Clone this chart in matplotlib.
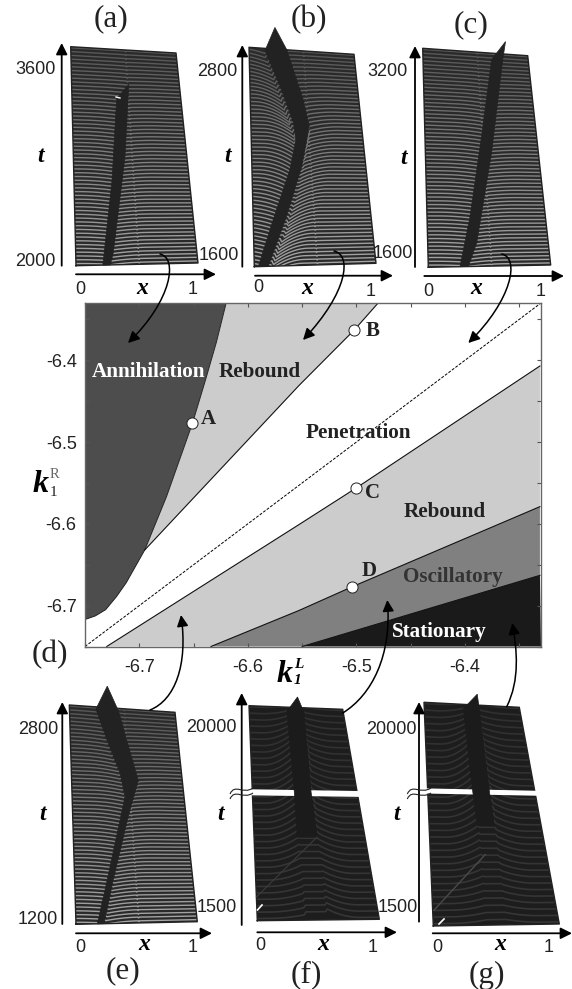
import numpy as np
import matplotlib as mpl
mpl.use('Agg')
import matplotlib.pyplot as plt
from matplotlib.patches import FancyArrowPatch, PathPatch
from matplotlib.path import Path

SANS = 'Liberation Sans'
SERIF = 'Liberation Serif'
plt.rcParams['axes.unicode_minus'] = False

# phase diagram (k1L, k1R)

annih_x = [-6.620, -6.629, -6.639, -6.651, -6.675, -6.695, -6.712, -6.721, -6.731, -6.7405, -6.750]
annih_y = [-6.330, -6.378, -6.424, -6.477, -6.567, -6.632, -6.672, -6.689, -6.705, -6.7126, -6.717]
upper_x = [-6.695, -6.553, -6.502, -6.480]
upper_y = [-6.632, -6.431, -6.363, -6.330]
lower_x = [-6.730, -6.553, -6.500, -6.331]
lower_y = [-6.750, -6.601, -6.556, -6.407]
osc_x = [-6.634, -6.553, -6.504, -6.331]
osc_y = [-6.750, -6.706, -6.677, -6.579]
stat_x = [-6.550, -6.331]
stat_y = [-6.750, -6.663]
points_x = [-6.651, -6.502, -6.500, -6.504]
points_y = [-6.477, -6.363, -6.556, -6.677]
k_ticks = [-6.7, -6.6, -6.5, -6.4]

# ridge outlines of the surfaces, fractions of x and of the t range

a_ridge_u = [0.22, 0.33, 0.41, 0.53, 0.454, 0.31, 0.28]
a_ridge_v = [0.00, 0.39, 0.77, 0.84, 0.50, 0.055, 0.00]
b_ridge_u = [0.033, 0.17, 0.333, 0.40, 0.385, 0.28, 0.152, 0.256, 0.36, 0.488, 0.527, 0.437, 0.285, 0.115]
b_ridge_v = [0.00, 0.214, 0.446, 0.585, 0.665, 0.83, 0.99, 1.10, 1.00, 0.77, 0.65, 0.46, 0.23, 0.00]
c_ridge_u = [0.259, 0.363, 0.508, 0.652, 0.80, 0.756, 0.587, 0.407, 0.327]
c_ridge_v = [0.00, 0.23, 0.61, 0.97, 1.06, 0.97, 0.535, 0.11, 0.00]
e_ridge_u = [0.176, 0.27, 0.473, 0.441, 0.337, 0.251, 0.371, 0.462, 0.602, 0.491, 0.328, 0.231]
e_ridge_v = [0.00, 0.19, 0.59, 0.70, 0.855, 0.99, 1.10, 0.99, 0.665, 0.50, 0.205, 0.00]
f_ridge_u = [0.39, 0.40, 0.40, 0.53, 0.58, 0.56, 0.57]
f_ridge_v = [0.39, 0.60, 0.98, 1.05, 0.98, 0.60, 0.39]
g_ridge_u = [0.43, 0.42, 0.408, 0.573, 0.575, 0.575, 0.58]
g_ridge_v = [0.45, 0.60, 0.98, 1.05, 0.98, 0.60, 0.45]

# how far the stripes bend next to the ridge, pixels, against v
bend_v = [0.0, 0.25, 0.5, 0.75, 1.0]
a_bend_left = [1, 2, 2, 1, 0]
a_bend_right = [2, 2, 2, 1, 0]
b_bend_left = [4, 6, 10, 12, 4]
b_bend_right = [12, 12, 7, 3, 0]
c_bend_left = [1, 2, 2, 2, 0]
c_bend_right = [2, 2, 2, 1, 0]
e_bend_left = [1, 2, 3, 3, 0]
e_bend_right = [3, 3, 2, 1, 0]
f_bend_left = [-3, -9, -14, -14, -2]
f_bend_right = [-9, -9, -9, -8, -2]
g_bend_left = [-3, -9, -14, -15, -2]
g_bend_right = [-3, -7, -9, -8, -2]
faint_u = 0.52

fig = plt.figure(figsize=(5.72, 9.89), dpi=100, facecolor='white')

ax = fig.add_axes([85 / 572, 1 - 646.5 / 989, 456 / 572, 343.5 / 989])
ax.set_xlim(-6.75, -6.33)
ax.set_ylim(-6.75, -6.33)
ax.fill(annih_x + [-6.75], annih_y + [-6.33], color='#4d4d4d', lw=0)
ax.fill(annih_x[:6] + upper_x[1:], annih_y[:6] + upper_y[1:], color='#cccccc', lw=0)
ax.fill(lower_x + osc_x[::-1], lower_y + osc_y[::-1], color='#cccccc', lw=0)
ax.fill(osc_x + stat_x[::-1], osc_y + stat_y[::-1], color='#808080', lw=0)
ax.fill(stat_x + [-6.33], stat_y + [-6.75], color='#1a1a1a', lw=0)
ax.plot(annih_x, annih_y, color='#222222', lw=0.7)
for xs, ys in [(upper_x, upper_y), (lower_x, lower_y), (osc_x, osc_y), (stat_x, stat_y)]:
    ax.plot(xs, ys, color='#111111', lw=0.8)
ax.plot([-6.75, -6.33], [-6.75, -6.33], color='black', lw=0.7, dashes=(3, 1.5))
ax.plot(points_x, points_y, 'o', ms=8, mfc='white', mec='#222222', mew=0.7)
ax.set_xticks(k_ticks)
ax.set_yticks(k_ticks)
ax.set_xticks(np.arange(-6.75, -6.32, 0.05), minor=True)
ax.set_yticks(np.arange(-6.75, -6.32, 0.05), minor=True)
ax.tick_params(which='both', direction='in', top=True, right=True, length=3, width=0.8, color='#555555')
ax.tick_params(axis='x', pad=9, labelsize=13)
ax.tick_params(axis='y', pad=6, labelsize=13)
for lab in ax.get_xticklabels() + ax.get_yticklabels():
    lab.set_family(SANS)
    lab.set_color('#222222')
for s in ax.spines.values():
    s.set_color('#666666')
    s.set_linewidth(1.0)

ov = fig.add_axes([0, 0, 1, 1], facecolor='none')
ov.set_xlim(0, 572)
ov.set_ylim(989, 0)
ov.axis('off')


def project(corners, u, v):
    bl, br, tr, tl = [np.array(c, float) for c in corners]
    u = np.asarray(u, float)
    v = np.asarray(v, float)
    x = (bl[0] * (1 - u) + br[0] * u) * (1 - v) + (tl[0] * (1 - u) + tr[0] * u) * v
    y = (bl[1] * (1 - u) + br[1] * u) * (1 - v) + (tl[1] * (1 - u) + tr[1] * u) * v
    return x, y


def ridge_span(ru, rv, v):
    # left and right end of the ridge at height v
    hits = []
    n = len(ru)
    for i in range(n):
        u0, v0, u1, v1 = ru[i], rv[i], ru[(i + 1) % n], rv[(i + 1) % n]
        if min(v0, v1) <= v <= max(v0, v1) and v0 != v1:
            hits.append(u0 + (u1 - u0) * (v - v0) / (v1 - v0))
    return min(hits), max(hits)


def surface(corners, ridge_u, ridge_v, bend_l, bend_r, nlines, bg, top_c, bot_c, ridge_c, lw=1.0, faint=0.8, gap=None):
    px, py = project(corners, [0, 1, 1, 0], [0, 0, 1, 1])
    quad = ov.fill(px, py, color=bg, lw=0, zorder=2)[0]
    top_rgb = np.array(mpl.colors.to_rgb(top_c))
    bot_rgb = np.array(mpl.colors.to_rgb(bot_c))
    width = 0.28
    for v in np.linspace(0.01, 0.995, nlines):
        near = np.clip(v, min(ridge_v) + 1e-3, max(ridge_v) - 1e-3)
        ul, ur = ridge_span(ridge_u, ridge_v, near)
        u = np.unique(np.r_[np.linspace(0, 1, 81), faint_u - 0.012, faint_u, faint_u + 0.012])
        left = np.interp(v, bend_v, bend_l)
        right = np.interp(v, bend_v, bend_r)
        s_l = np.clip((u - (ul - width)) / width, 0, 1) ** 2
        s_r = np.clip(((ur + width) - u) / width, 0, 1) ** 2
        off = np.where(u <= ul, left * s_l, np.where(u >= ur, right * s_r, 0.5 * (left + right)))
        off = off + faint * (u == faint_u)
        x, y = project(corners, u, np.full(u.shape, v))
        col = top_rgb * v + bot_rgb * (1 - v)
        line, = ov.plot(x, y + off, color=col, lw=lw, zorder=3, solid_capstyle='butt')
        line.set_clip_path(quad)
    ex, ey = project(corners, [0, 1, 1, 0, 0], [0, 0, 1, 1, 0])
    ov.plot(ex, ey, color='#222222', lw=1.0, zorder=4)
    if gap is not None:
        gx, gy = project(corners, [-0.02, 1.02, 1.02, -0.02], [gap[0], gap[0], gap[1], gap[1]])
        ov.fill(gx, gy, color='white', lw=0, zorder=5)
    rx, ry = project(corners, ridge_u, ridge_v)
    ov.fill(rx, ry, color=ridge_c, ec=ridge_c, lw=0.5, zorder=6)


def axes_arrows(x0, y_bot, y_top, x_left, x_right, y_axis):
    for a, b in [((x0, y_bot), (x0, y_top)), ((x_left, y_axis), (x_right, y_axis))]:
        ov.add_patch(FancyArrowPatch(a, b, arrowstyle='-|>', mutation_scale=17, lw=1.3, color='black',
                                     shrinkA=0, shrinkB=0, zorder=7))


def labels(top_lab, bot_lab, top_xy, bot_xy, zero_xy, one_xy, x_xy, t_xy):
    ov.text(top_xy[0], top_xy[1], top_lab, ha='right', va='center', family=SANS, size=13, color='#222222', zorder=8)
    ov.text(bot_xy[0], bot_xy[1], bot_lab, ha='right', va='center', family=SANS, size=13, color='#222222', zorder=8)
    ov.text(zero_xy[0], zero_xy[1], '0', ha='center', va='center', family=SANS, size=13, color='#222222')
    ov.text(one_xy[0], one_xy[1], '1', ha='center', va='center', family=SANS, size=13, color='#222222')
    ov.text(x_xy[0], x_xy[1], 'x', ha='center', va='center', family=SERIF, weight='bold', style='italic', size=17)
    ov.text(t_xy[0], t_xy[1], 't', ha='center', va='center', family=SERIF, weight='bold', style='italic', size=17)


def curved(p0, c1, c2, p1):
    path = Path([p0, c1, c2, p1], [Path.MOVETO, Path.CURVE4, Path.CURVE4, Path.CURVE4])
    ov.add_patch(FancyArrowPatch(path=path, arrowstyle='-|>', mutation_scale=17, lw=1.1, color='black', zorder=8,
                                 shrinkA=0, shrinkB=0))


grey = dict(nlines=58, bg='#2a2a2a', top_c='#565656', bot_c='#a6a6a6', ridge_c='#222222')
dark = dict(nlines=34, bg='#1d1d1d', top_c='#303030', bot_c='#363636', ridge_c='#1b1b1b', lw=1.2, faint=0)

surface([(76, 265.7), (198, 263), (176, 53), (70.7, 46.7)], a_ridge_u, a_ridge_v, a_bend_left, a_bend_right, **grey)
surface([(254.3, 266.7), (376, 263.3), (354, 54.3), (249, 47.3)], b_ridge_u, b_ridge_v, b_bend_left, b_bend_right, **grey)
surface([(428.3, 267.3), (550.7, 265), (527.7, 55.7), (422.7, 48.3)], c_ridge_u, c_ridge_v, c_bend_left, c_bend_right, **grey)
surface([(76, 924.3), (197.3, 921.7), (175, 712.3), (69.3, 705)], e_ridge_u, e_ridge_v, e_bend_left, e_bend_right, **grey)
f_corners = [(257.3, 920.7), (379.3, 919.3), (342.7, 709.3), (249, 705.7)]
g_corners = [(433.3, 926), (559.3, 924), (519.3, 707.3), (424, 702.3)]
surface(f_corners, f_ridge_u, f_ridge_v, f_bend_left, f_bend_right, gap=(0.583, 0.611), **dark)
surface(g_corners, g_ridge_u, g_ridge_v, g_bend_left, g_bend_right, gap=(0.592, 0.615), **dark)

# lighter diagonal streaks in the two dark surfaces
x, y = project(f_corners, [0.0, 0.567], [0.11, 0.39])
ov.plot(x, y, color='#3c3c3c', lw=0.8, zorder=6)
x, y = project(g_corners, [0.01, 0.473], [0.07, 0.32])
ov.plot(x, y, color='#4a4a4a', lw=1.0, zorder=6)
ov.plot([257.5, 262], [910, 905], color='white', lw=1.2, zorder=7)
ov.plot([439, 444], [924, 919], color='white', lw=1.2, zorder=7)
ov.plot([116, 120], [97, 98], color='white', lw=1.0, zorder=7)

axes_arrows(61.7, 265.7, 43, 76, 216, 274.3)
axes_arrows(242.3, 266.7, 45, 255, 393, 275.7)
axes_arrows(415, 267, 46, 424.3, 564, 276)
axes_arrows(62.3, 924, 702, 76, 212, 933.3)
axes_arrows(241.7, 925, 693, 257.3, 397, 932.3)
axes_arrows(419, 921.7, 702, 432.7, 572, 933.3)

labels('3600', '2000', (56, 70), (56, 261), (80, 289), (192.5, 289), (142, 288), (41, 156))
labels('2800', '1600', (237, 71), (239, 255), (258.7, 288), (371, 291), (307, 289), (228, 157))
labels('3200', '1600', (408, 72), (413, 253), (428, 291), (541, 291), (476, 289), (404, 159))
labels('2800', '1200', (58, 729), (58, 920), (80, 947), (193, 947), (144, 944), (43, 815))
labels('20000', '1500', (237, 728), (237, 908), (260, 946), (373, 947), (323, 944), (221, 815))
labels('20000', '1500', (416.7, 729), (418, 908), (437, 947), (549, 947), (500, 944), (397, 815))

# axis breaks
for dx, x_end in [(0, 253), (177.3, 431)]:
    for dy in (0, 5):
        p = Path([(230 + dx, 794 + dy), (235 + dx, 783 + dy), (243 + dx, 795 + dy), (x_end, 788 + dy)],
                 [Path.MOVETO, Path.CURVE4, Path.CURVE4, Path.CURVE4])
        ov.add_patch(PathPatch(p, fc='none', ec='#222222', lw=0.8, zorder=7))

curved((160, 254), (178, 258), (172, 300), (128, 343))
curved((334, 251), (352, 255), (348, 292), (303, 340))
curved((501.7, 254), (520, 258), (512, 300), (468.3, 343))
curved((150, 710), (175, 700), (188, 665), (181, 615))
curved((342.7, 713), (372, 695), (392, 655), (387.3, 600))
curved((506.7, 706.7), (520, 680), (517, 650), (512.3, 623))

for txt, xp, yp, col in [('Annihilation', 149, 372, 'white'), ('Rebound', 259.5, 372, '#222222'),
                         ('Penetration', 358, 433, '#222222'), ('Rebound', 445, 512, '#222222'),
                         ('Oscillatory', 453, 577, '#333333'), ('Stationary', 439, 632, 'white')]:
    ov.text(xp, yp, txt, ha='center', va='center', family=SERIF, weight='bold', size=15.2, color=col, zorder=9)

for txt, xp, yp in [('A', 208.3, 419), ('B', 372.7, 331), ('C', 372, 493), ('D', 369, 571)]:
    ov.text(xp, yp, txt, ha='center', va='center', family=SERIF, weight='bold', size=15, color='#222222', zorder=9)

for txt, xp, yp in [('(a)', 111, 19), ('(b)', 309, 20), ('(c)', 471, 25), ('(d)', 50, 655),
                    ('(e)', 123, 971), ('(f)', 306, 975), ('(g)', 487, 975)]:
    ov.text(xp, yp, txt, ha='center', va='center', family=SERIF, size=22.5, color='#222222')

# k labels
ov.text(41, 485, 'k', ha='center', va='center', family=SERIF, weight='bold', style='italic', size=23)
ov.text(54, 475, 'R', ha='center', va='center', family=SERIF, size=10.5, color='#666666')
ov.text(53, 492, '1', ha='center', va='center', family=SERIF, size=11, color='#222222')
ov.text(285, 675, 'k', ha='center', va='center', family=SERIF, weight='bold', style='italic', size=23)
ov.text(299, 664, 'L', ha='center', va='center', family=SERIF, weight='bold', style='italic', size=11)
ov.text(297, 681, '1', ha='center', va='center', family=SERIF, weight='bold', style='italic', size=11)

fig.savefig('out.png', dpi=100)
